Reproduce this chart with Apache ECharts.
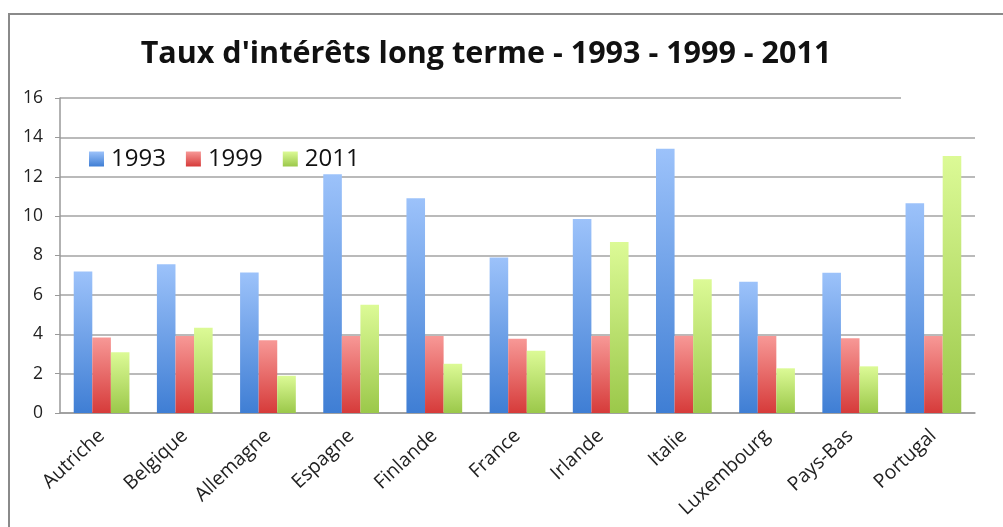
<!DOCTYPE html>
<html>
<head>
<meta charset="utf-8">
<script src="https://cdn.jsdelivr.net/npm/echarts@6/dist/echarts.min.js"></script>
<style>
html,body{margin:0;padding:0;background:#fff;}
#frame{position:absolute;left:8px;top:13px;width:995px;height:514px;border-left:2px solid #8a8a8a;border-top:2px solid #8a8a8a;}
#chart{position:absolute;left:0;top:0;width:1003px;height:527px;}
</style>
</head>
<body>
<div id="frame"></div>
<div id="chart"></div>
<script>
const categories = ['Autriche','Belgique','Allemagne','Espagne','Finlande','France','Irlande','Italie','Luxembourg','Pays-Bas','Portugal'];
const values1993 = [7.19, 7.56, 7.14, 12.13, 10.91, 7.90, 9.86, 13.42, 6.67, 7.12, 10.66];
const values1999 = [3.84, 3.91, 3.70, 3.91, 3.91, 3.77, 3.91, 3.93, 3.91, 3.80, 3.91];
const values2011 = [3.08, 4.33, 1.89, 5.50, 2.50, 3.16, 8.68, 6.80, 2.27, 2.37, 13.06];
const yTicks = [0, 2, 4, 6, 8, 10, 12, 14, 16];

function grad(top, bottom) {
  return new echarts.graphic.LinearGradient(0, 0, 0, 1, [
    {offset: 0, color: top}, {offset: 1, color: bottom}
  ]);
}
const chart = echarts.init(document.getElementById('chart'), null, {renderer: 'canvas'});
const font = 'Open Sans';
chart.setOption({
  animation: false,
  backgroundColor: 'transparent',
  title: {
    text: "Taux d'intérêts long terme - 1993 - 1999 - 2011",
    left: 481, top: 34, textAlign: 'center',
    textStyle: {fontFamily: font, fontWeight: 700, fontSize: 30.5, color: '#111'}
  },
  legend: {
    left: 84, top: 142, itemWidth: 15, itemHeight: 15, itemGap: 20,
    icon: 'rect',
    textStyle: {fontFamily: font, fontSize: 24, color: '#111', padding: [0,0,0,2]},
    data: ['1993', '1999', '2011']
  },
  grid: {left: 60, right: 28, top: 98, bottom: 114, containLabel: false},
  graphic: [{type: 'rect', left: 901, top: 95, shape: {width: 80, height: 6}, style: {fill: '#fff'}, z: 100}],
  xAxis: {
    type: 'category', data: categories,
    axisLine: {show: true, lineStyle: {color: '#999', width: 1.5}},
    axisTick: {show: false},
    axisLabel: {rotate: 43, interval: 0, margin: 20, fontFamily: font, fontSize: 19.5, color: '#222'}
  },
  yAxis: {
    type: 'value', min: yTicks[0], max: yTicks[yTicks.length-1], interval: 2,
    axisLine: {show: true, lineStyle: {color: '#999', width: 1.5}},
    axisTick: {show: true, length: 5, lineStyle: {color: '#999'}},
    splitLine: {show: true, lineStyle: {color: '#a3a3a3', width: 1.5}},
    axisLabel: {margin: 17, fontFamily: font, fontSize: 17.5, color: '#222'}
  },
  series: [
    {name: '1993', type: 'bar', data: values1993, barGap: '0%', barCategoryGap: '33%',
     itemStyle: {color: grad('#9cc2fa', '#3f7ed4')}},
    {name: '1999', type: 'bar', data: values1999,
     itemStyle: {color: grad('#f79896', '#d63b3a')}},
    {name: '2011', type: 'bar', data: values2011,
     itemStyle: {color: grad('#dcfa96', '#9bc84a')}}
  ]
});
</script>
</body>
</html>
